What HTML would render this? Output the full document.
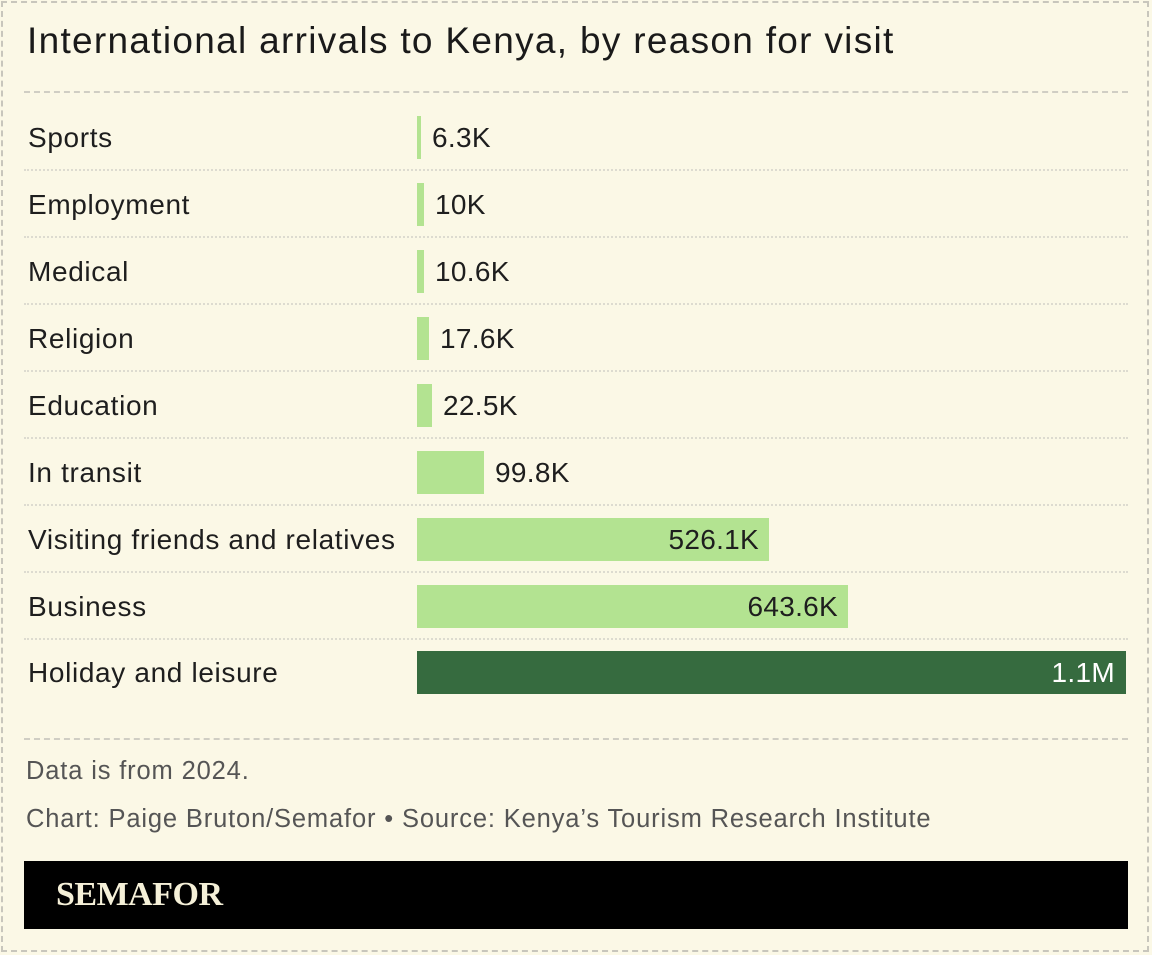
<!DOCTYPE html>
<html><head><meta charset="utf-8"><style>
html,body{margin:0;padding:0;}
body{width:1152px;height:955px;background:#FBF8E6;position:relative;overflow:hidden;font-family:"Liberation Sans",sans-serif;}
.border{position:absolute;left:1px;top:1px;width:1148px;height:951px;border:2px dashed #c8c6bc;box-sizing:border-box;}
.title{position:absolute;left:27px;top:20px;font-size:37px;letter-spacing:1.3px;color:#1a1a1a;white-space:nowrap;}
.hr{position:absolute;left:24px;width:1104px;border-top:2px dashed #d0cec4;}
.sep{position:absolute;left:24px;width:1104px;border-top:2px dotted #dddbd0;}
.lbl{position:absolute;left:28px;font-size:28px;letter-spacing:0.65px;color:#1e1e1e;white-space:nowrap;line-height:43px;}
.bar{position:absolute;left:417px;height:43px;background:#B3E391;}
.val{position:absolute;font-size:28px;letter-spacing:0.3px;color:#1e1e1e;line-height:43px;white-space:nowrap;}
.foot{position:absolute;left:26px;font-size:25.5px;letter-spacing:0.85px;color:#555;white-space:nowrap;}
.brand{position:absolute;left:24px;top:861px;width:1104px;height:68px;background:#000;}
.brand span{position:absolute;left:32px;top:15px;font-family:"Liberation Serif",serif;font-weight:bold;font-size:34px;color:#F5F0D8;letter-spacing:-0.5px;}
</style></head><body>
<div class="border"></div>
<div class="title">International arrivals to Kenya, by reason for visit</div>
<div class="hr" style="top:91px"></div>

<div class="lbl" style="top:116px">Sports</div><div class="bar" style="top:116px;width:4px"></div><div class="val" style="top:116px;left:432px">6.3K</div>
<div class="sep" style="top:169px"></div>
<div class="lbl" style="top:183px">Employment</div><div class="bar" style="top:183px;width:7px"></div><div class="val" style="top:183px;left:435px">10K</div>
<div class="sep" style="top:236px"></div>
<div class="lbl" style="top:250px">Medical</div><div class="bar" style="top:250px;width:7px"></div><div class="val" style="top:250px;left:435px">10.6K</div>
<div class="sep" style="top:303px"></div>
<div class="lbl" style="top:317px">Religion</div><div class="bar" style="top:317px;width:12px"></div><div class="val" style="top:317px;left:440px">17.6K</div>
<div class="sep" style="top:370px"></div>
<div class="lbl" style="top:384px">Education</div><div class="bar" style="top:384px;width:15px"></div><div class="val" style="top:384px;left:443px">22.5K</div>
<div class="sep" style="top:437px"></div>
<div class="lbl" style="top:451px">In transit</div><div class="bar" style="top:451px;width:67px"></div><div class="val" style="top:451px;left:495px">99.8K</div>
<div class="sep" style="top:504px"></div>
<div class="lbl" style="top:518px">Visiting friends and relatives</div><div class="bar" style="top:518px;width:352px"></div><div class="val" style="top:518px;right:393px">526.1K</div>
<div class="sep" style="top:571px"></div>
<div class="lbl" style="top:585px">Business</div><div class="bar" style="top:585px;width:431px"></div><div class="val" style="top:585px;right:314px">643.6K</div>
<div class="sep" style="top:638px"></div>
<div class="lbl" style="top:651px">Holiday and leisure</div><div class="bar" style="top:651px;width:709px;background:#366B3F"></div><div class="val" style="top:651px;right:37px;color:#fff">1.1M</div>

<div class="hr" style="top:738px"></div>
<div class="foot" style="top:757px">Data is from 2024.</div>
<div class="foot" style="top:805px">Chart: Paige Bruton/Semafor • Source: Kenya’s Tourism Research Institute</div>
<div class="brand"><span>SEMAFOR</span></div>
</body></html>
